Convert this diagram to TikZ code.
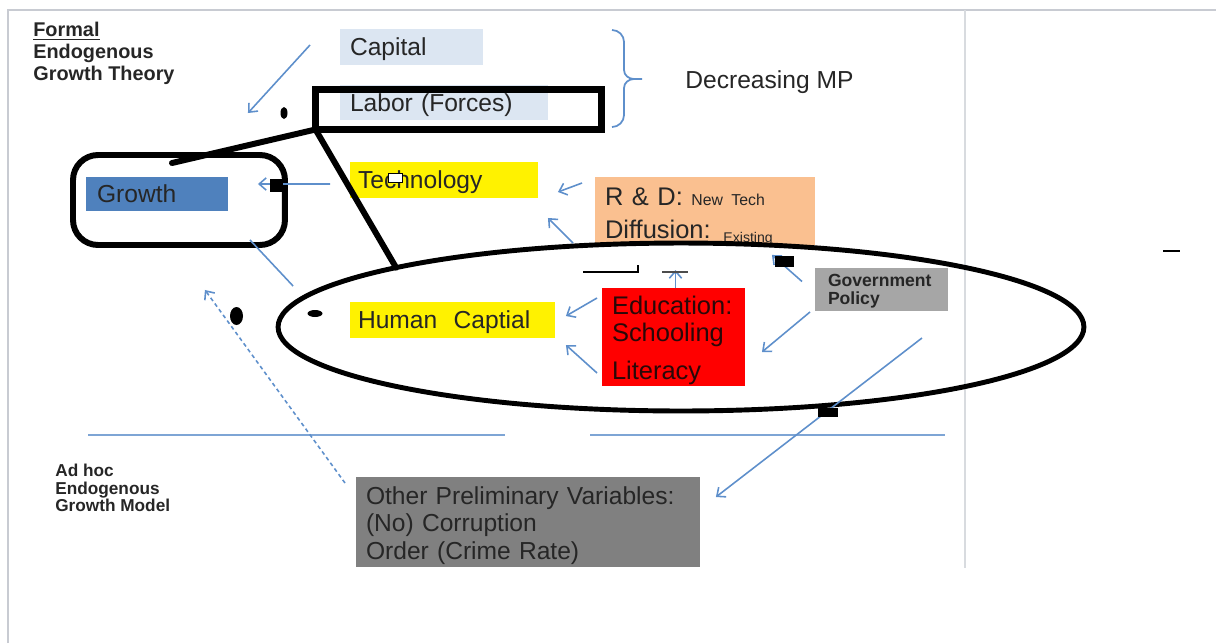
\documentclass[tikz,border=0pt]{standalone}
\usepackage{fontspec}
\setmainfont{Liberation Sans}
\usetikzlibrary{arrows.meta,shapes.geometric}

\definecolor{framegray}{HTML}{C8CBD2}
\definecolor{arrowblue}{HTML}{5E8FCB}
\definecolor{capblue}{HTML}{DCE6F2}
\definecolor{growthblue}{HTML}{4F81BD}
\definecolor{rdpeach}{HTML}{FAC090}
\definecolor{govgray}{HTML}{A6A6A6}
\definecolor{othergray}{HTML}{808080}
\definecolor{inkdark}{HTML}{262626}
\definecolor{educdark}{HTML}{2A0808}

\newcommand{\labfont}{\fontsize{14}{16}\selectfont}
\newcommand{\inkrect}[4]{
            \fill[black] (#1,#2) rectangle (#3,#4);
        }
\newcommand{\inkdot}[4]{
            \fill[black] (#1,#2) ellipse [x radius=#3cm, y radius=#4cm];
        }

\tikzset{
  pbox/.style={anchor=north west, inner xsep=0.2cm, inner ysep=0pt, outer sep=0pt, align=left, font=\labfont, text=inkdark},
  onebox/.style={pbox, text depth=0pt},
  arr/.style={draw=arrowblue, line width=0.9pt, -{Straight Barb[length=4pt,width=7pt]}},
  ring/.style={draw, anchor=north west, inner sep=0pt, outer sep=0pt},
  thickline/.style={line width=3.4pt, line cap=round, line join=round},
}

\begin{document}
\begin{tikzpicture}[x=0.02cm, y=-0.02cm]
        \useasboundingbox (0,0) rectangle (1216,643);
        \draw[framegray, line width=1.4pt] (8,643) -- (8,10) -- (1216,10);
        \draw[framegray!70, line width=1.4pt] (965,10) -- (965,568);

        \node[anchor=north west, inner sep=0pt, align=left, font=\fontsize{11.3}{12.5}\selectfont\bfseries, text=inkdark] (formal) at (33,22) {\underline{Formal}\\Endogenous\\Growth Theory};
        \node[anchor=north west, inner sep=0pt, align=left, font=\fontsize{9.8}{10}\selectfont\bfseries, text=inkdark] (adhoc) at (55,464) {Ad hoc\\Endogenous\\Growth Model};

        \node[onebox, fill=capblue, text width=2.46cm, minimum height=0.72cm] (capital) at (340,29) {Capital};
        \node[onebox, fill=capblue, text width=3.76cm, minimum height=0.70cm] (labor) at (340,85) {Labor (Forces)};
        \node[anchor=west, inner sep=0pt, font=\labfont, text=inkdark] (decmp) at (685,82) {Decreasing MP};
        \node[onebox, fill=growthblue, inner xsep=0.22cm, text width=2.40cm, minimum height=0.68cm] (growth) at (86,177) {Growth};
        \node[onebox, fill=yellow, inner xsep=0.16cm, text width=3.44cm, minimum height=0.72cm] (tech) at (350,162) {Technology};
        \node[pbox, fill=rdpeach, text width=4.0cm, minimum height=1.36cm, font=\fontsize{14.5}{19}\selectfont] (rnd) at (595,177) {\rule{0pt}{16pt}R \& D: {\fontsize{9}{9}\selectfont New Tech}\\Diffusion: \raisebox{-2pt}{\fontsize{8}{8}\selectfont Existing}};
        \node[pbox, fill=govgray, inner xsep=0.26cm, text width=2.14cm, minimum height=0.86cm, font=\fontsize{10}{10.5}\selectfont\bfseries] (gov) at (815,268) {\rule{0pt}{9pt}Government\\Policy};
        \node[onebox, fill=yellow, inner xsep=0.16cm, text width=3.78cm, minimum height=0.72cm] (humcap) at (350,302) {Human\ \ Captial};
        \node[pbox, fill=red, text width=2.46cm, minimum height=1.96cm, font=\fontsize{14.5}{15.5}\selectfont, text=educdark] (educ) at (602,288) {\rule{0pt}{14.5pt}Education:\\Schooling\\[6pt]Literacy};
        \node[pbox, fill=othergray, text width=6.48cm, minimum height=1.80cm, font=\fontsize{14}{15.6}\selectfont] (other) at (356,477) {\rule{0pt}{14pt}Other Preliminary Variables:\\(No) Corruption\\Order (Crime Rate)};

        \draw[arrowblue, line width=1pt] (612,30) to[out=0,in=90] (624,42) -- (624,70) to[out=-90,in=180] (634,79) -- (642,79);
        \draw[arrowblue, line width=1pt] (634,79) to[out=180,in=90] (624,88) -- (624,115) to[out=-90,in=0] (612,127);

        \draw[arrowblue!80, line width=0.9pt] (88,435) -- (505,435);
        \draw[arrowblue!80, line width=0.9pt] (590,435) -- (945,435);

        \node[ring, line width=3.4pt, rounded corners=0.5cm, minimum width=4.24cm, minimum height=1.8cm] (growthring) at (73,155) {};
        \node[ring, line width=4pt, minimum width=5.72cm, minimum height=0.8cm] (laborring) at (315.5,89.5) {};
        \node[draw, ellipse, line width=2.8pt, minimum width=16.12cm, minimum height=3.36cm, inner sep=0pt, outer sep=0pt] (hcring) at (681,327) {};
        \draw[thickline] ([xshift=-0.14cm,yshift=-0.16cm]growthring.north) -- (laborring.south west) -- (hcring.north west);

        \draw[arr] ([xshift=-0.6cm,yshift=0.04cm]capital.west) -- ([xshift=0.4cm,yshift=1.28cm]growth.north east);
        \draw[arr] ([xshift=-0.4cm,yshift=-0.08cm]tech.west) -- ([xshift=0.6cm,yshift=0.2cm]growth.east);
        \draw[draw=arrowblue, line width=0.9pt] ([xshift=-0.7cm,yshift=0.1cm]growthring.south east) -- ([xshift=0.3cm,yshift=0.82cm]hcring.west);
        \draw[arr] ([xshift=-0.26cm,yshift=0.56cm]rnd.west) -- ([xshift=0.4cm,yshift=-0.24cm]tech.east);
        \draw[arr] ([xshift=-0.44cm,yshift=0.04cm]rnd.south west) -- ([xshift=0.2cm,yshift=-0.4cm]tech.south east);
        \draw[arr] ([xshift=-0.1cm,yshift=-0.2cm]educ.north west) -- ([xshift=0.22cm,yshift=0.08cm]humcap.east);
        \draw[arr] ([xshift=-0.1cm,yshift=0.26cm]educ.south west) -- ([xshift=0.22cm,yshift=-0.14cm]humcap.south east);
        \draw[arr] ([xshift=0.04cm]educ.north) -- ([xshift=0.04cm,yshift=0.36cm]educ.north);
        \draw[arr] ([xshift=-0.26cm,yshift=0.16cm]gov.west) -- ([xshift=-0.86cm,yshift=-0.2cm]rnd.south east);
        \draw[arr] ([xshift=-0.1cm,yshift=-0.02cm]gov.south west) -- ([xshift=0.34cm,yshift=-0.3cm]educ.east);
        \draw[arr] ([xshift=-0.52cm,yshift=-0.54cm]gov.south east) -- ([xshift=0.32cm,yshift=-0.4cm]other.north east);
        \draw[arr, dash pattern=on 2.2pt off 1.8pt] ([xshift=-0.22cm,yshift=-0.12cm]other.north west) -- ([xshift=0.96cm,yshift=-1.58cm]growth.south);

        \inkrect{270}{179}{283}{192}
        \inkrect{775}{256}{794}{267}
        \inkrect{818}{408}{838}{417}
        \inkdot{236.5}{316}{0.13}{0.18}
        \inkdot{315}{313.5}{0.15}{0.07}
        \inkdot{284}{113}{0.07}{0.12}
        \draw[fill=white, line width=0.5pt] (388,173) rectangle (402,182);
        \draw[line width=0.8pt] (583,272) -- (638,272) -- (638,265);
        \draw[line width=0.6pt, black!70] (662,272) -- (688,272);
        \draw[line width=1pt] (1163,251) -- (1180,251);
\end{tikzpicture}
\end{document}
